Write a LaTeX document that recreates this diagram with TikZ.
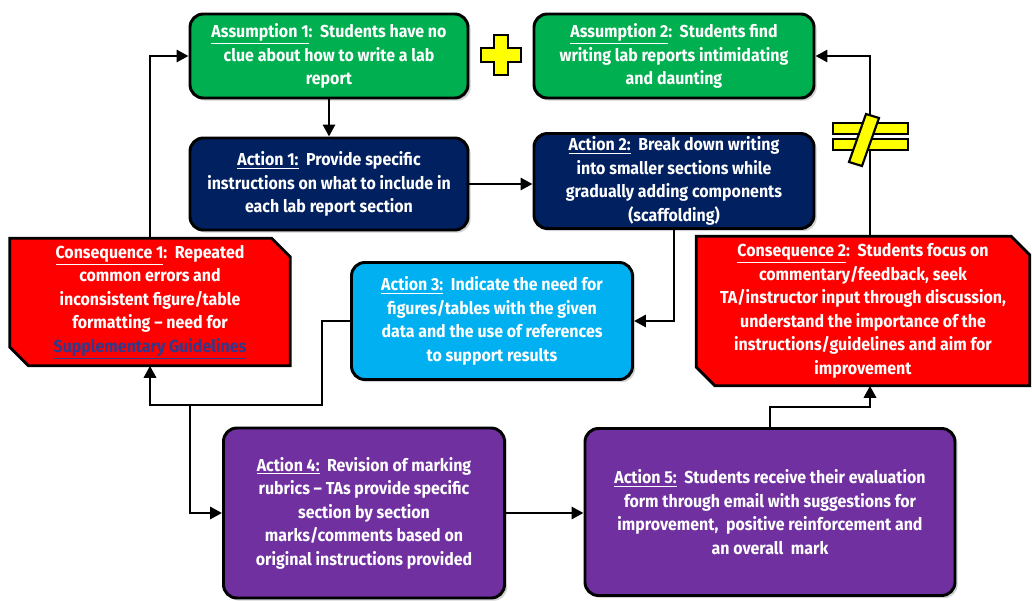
\documentclass[tikz,border=0pt]{standalone}
\usepackage{fontspec}
\setmainfont[FakeStretch=0.92]{Fira Sans}
\usetikzlibrary{shadows,arrows.meta,backgrounds}
\definecolor{cgreen}{HTML}{00B050}
\definecolor{cnavy}{HTML}{002060}
\definecolor{cblue}{HTML}{00B0F0}
\definecolor{cred}{HTML}{FF0000}
\definecolor{cpurple}{HTML}{7030A0}
\definecolor{cyell}{HTML}{FFFF00}
\definecolor{clink}{HTML}{2E3A8C}
\tikzset{
  sz/.style 2 args={minimum width=#1*0.75pt, minimum height=#2*0.75pt},
  txt/.style={align=center, text=white, inner sep=1pt,
    font=\fontsize{13}{17.6}\selectfont\bfseries},
  box/.style={txt, draw=black, line width=2.2pt, rounded corners=10pt,
    drop shadow={opacity=0.35, shadow xshift=2pt, shadow yshift=-2pt}},
  snipbox/.style={fill=cred, draw=black, line width=2.2pt, line join=miter},
  snipshadow/.style={fill=black, opacity=0.35},
  arr/.style={line width=2.2pt, -{Triangle[length=9pt,width=9pt]}},
  sym/.style={fill=cyell, draw=black, line width=1.6pt, line join=miter},
}
\newcommand{\snipshape}[2]{% node, chamfer
  (#1.north west) -- ([xshift=-#2]#1.north east) -- ([yshift=-#2]#1.north east)
  -- (#1.south east) -- ([xshift=#2]#1.south west) -- ([yshift=#2]#1.south west) -- cycle}
\begin{document}
\begin{tikzpicture}[x=0.75pt,y=-0.75pt]
\useasboundingbox (0,0) rectangle (1032,600);

\node[box, fill=cgreen, sz={278}{84}] (A1) at (329,56)
  {\underline{Assumption 1}:\ \ Students have no\\clue about how to write a lab\\report};
\node[box, fill=cgreen, sz={280}{84}] (A2) at (674,56)
  {\underline{Assumption 2}:\ \ Students find\\writing lab reports intimidating\\and daunting};
\node[box, fill=cnavy, sz={278}{92}] (B1) at (329,184)
  {\underline{Action 1:}\ \ Provide specific\\instructions on what to include in\\each lab report section};
\node[box, fill=cnavy, sz={280}{95}] (B2) at (674,181)
  {\underline{Action 2:}\ \ Break down writing\\into smaller sections while\\gradually adding components\\(scaffolding)};
\node[txt, sz={280}{127}] (C1) at (150,302)
  {\underline{Consequence 1}:\ \ Repeated\\common errors and\\inconsistent figure/table\\formatting -- need for\\\textcolor{clink}{\underline{Supplementary Guidelines}}};
\node[txt, sz={333}{149}] (C2) at (863,311)
  {\underline{Consequence 2}:\ \ Students focus on\\commentary/feedback, seek\\TA/instructor input through discussion,\\understand the importance of the\\instructions/guidelines and aim for\\improvement};
\begin{scope}[on background layer]
  \fill[snipshadow, xshift=2pt, yshift=-2pt] \snipshape{C1}{14pt};
  \draw[snipbox] \snipshape{C1}{14pt};
  \fill[snipshadow, xshift=2pt, yshift=-2pt] \snipshape{C2}{14pt};
  \draw[snipbox] \snipshape{C2}{14pt};
\end{scope}
\node[box, fill=cblue, sz={281}{117}] (B3) at (492,321)
  {\underline{Action 3:}\ \ Indicate the need for\\figures/tables with the given\\data and the use of references\\to support results};
\node[box, fill=cpurple, sz={281}{170}] (B4) at (364,513)
  {\underline{Action 4:}\ \ Revision of marking\\rubrics -- TAs provide specific\\section by section\\marks/comments based on\\original instructions provided};
\node[box, fill=cpurple, sz={370}{167}] (B5) at (770,512)
  {\underline{Action 5:}\ \ Students receive their evaluation\\form through email with suggestions for\\improvement,\ \ positive reinforcement and\\an overall\ \ mark};

% junction coordinates
\coordinate (j1) at (322,405);
\coordinate (j2) at (190,405);
\coordinate (j3) at (870,407);

% connectors
\draw[arr] (A1.south) -- (B1.north);
\draw[arr] (B1.east) -- (B2.west |- B1.east);
\draw[arr] (B2.south) |- (B3.east);
\draw[arr] (B3.west) -| (j1) -| (C1.south);
\draw[arr] (j2) |- (B4.west);
\draw[arr] (B4.east) -- (B5.west |- B4.east);
\draw[arr] (B5.north) |- (j3) -- (C2.south -| j3);
\draw[arr] (C2.north -| j3) |- (A2.east);
\draw[arr] (C1.north) |- (A1.west);

% plus sign
\draw[sym] (494,35) -- (508,35) -- (508,48) -- (521,48) -- (521,62) -- (508,62)
  -- (508,75) -- (494,75) -- (494,62) -- (481,62) -- (481,48) -- (494,48) -- cycle;

% not-equal sign
\draw[sym] (833,123) rectangle (908,134);
\draw[sym] (833,139) rectangle (908,150);
\draw[sym] (870,138) ++(-4,-24) -- ++(13,4) -- ++(-17,48) -- ++(-13,-4) -- cycle;
\end{tikzpicture}
\end{document}
